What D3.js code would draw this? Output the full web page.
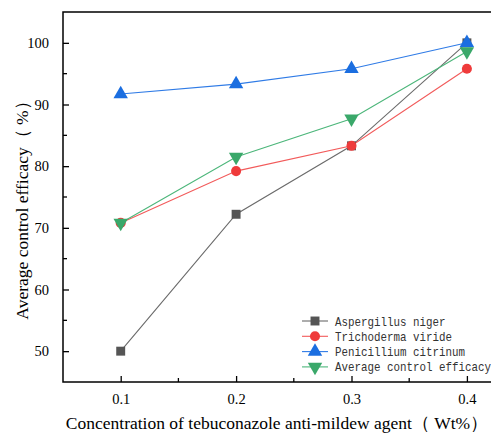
<!DOCTYPE html>
<html>
<head>
<meta charset="utf-8">
<script src="https://cdn.jsdelivr.net/npm/d3@7"></script>
<style>
  body { margin: 0; background: #fff; }
  svg { display: block; }
</style>
</head>
<body>
<svg id="chart" width="491" height="435"></svg>
<script>
// concentrations (Wt%)
const concentrations = [0.1, 0.2, 0.3, 0.4];
const seriesNames = ['Aspergillus niger', 'Trichoderma viride', 'Penicillium citrinum', 'Average control efficacy'];
const aspergillus = [50, 72.2, 83.3, 100];
const trichoderma = [70.8, 79.2, 83.3, 95.8];
const penicillium = [91.7, 93.3, 95.8, 100];
const average = [70.8, 81.5, 87.7, 98.6];
const xTicks = [0.1, 0.2, 0.3, 0.4];
const yTicks = [50, 60, 70, 80, 90, 100];

const colors = ['#555555', '#ef3b3b', '#1b6ee0', '#3aa86a'];
const lineColors = ['#6b6b6b', '#f25a5a', '#2f7be6', '#4cb67a'];
const symbols = [d3.symbolSquare, d3.symbolCircle, d3.symbolTriangle, d3.symbolTriangle];
const symSizes = [80, 80, 90, 90];
const allSeries = [aspergillus, trichoderma, penicillium, average];

const margin = { left: 63, top: 12, right: 524.6, bottom: 382 };

const x = d3.scaleLinear().domain([0.05, 0.45]).range([margin.left, margin.right]);
const y = d3.scaleLinear().domain([45, 105]).range([margin.bottom, margin.top]);

const svg = d3.select('#chart');
const serif = '"Liberation Serif", "Times New Roman", serif';

// frame
svg.append('rect')
  .attr('x', margin.left).attr('y', margin.top)
  .attr('width', margin.right - margin.left).attr('height', margin.bottom - margin.top)
  .attr('fill', 'none').attr('stroke', '#000').attr('stroke-width', 1.5);

// bottom axis, ticks inward
const xAxis = svg.append('g')
  .attr('transform', `translate(0,${margin.bottom})`)
  .call(d3.axisBottom(x).tickValues(xTicks).tickFormat(d3.format('.1f')).tickSizeInner(-6).tickSizeOuter(0).tickPadding(12));
xAxis.select('.domain').remove();
xAxis.selectAll('text').attr('font-family', serif).attr('font-size', 14.5).attr('fill', '#000');
xAxis.selectAll('line').attr('stroke-width', 1.3);
svg.append('g').attr('transform', `translate(0,${margin.bottom})`)
  .selectAll('line').data([0.15, 0.25, 0.35]).join('line')
  .attr('x1', d => x(d)).attr('x2', d => x(d)).attr('y1', 0).attr('y2', -4)
  .attr('stroke', '#000').attr('stroke-width', 1.3);

// left axis, ticks inward
const yAxis = svg.append('g')
  .attr('transform', `translate(${margin.left},0)`)
  .call(d3.axisLeft(y).tickValues(yTicks).tickSizeInner(-6).tickSizeOuter(0).tickPadding(14));
yAxis.select('.domain').remove();
yAxis.selectAll('text').attr('font-family', serif).attr('font-size', 14.5).attr('fill', '#000');
yAxis.selectAll('line').attr('stroke-width', 1.3);
svg.append('g').attr('transform', `translate(${margin.left},0)`)
  .selectAll('line').data([55, 65, 75, 85, 95]).join('line')
  .attr('x1', 0).attr('x2', 4).attr('y1', d => y(d)).attr('y2', d => y(d))
  .attr('stroke', '#000').attr('stroke-width', 1.3);

// lines and markers
const line = d3.line().x((d, i) => x(concentrations[i])).y(d => y(d));
allSeries.forEach((vals, k) => {
  svg.append('path').datum(vals)
    .attr('d', line).attr('fill', 'none')
    .attr('stroke', lineColors[k]).attr('stroke-width', 1.1);
});
allSeries.forEach((vals, k) => {
  svg.append('g').selectAll('path').data(vals).join('path')
    .attr('d', d3.symbol().type(symbols[k]).size(symSizes[k]))
    .attr('transform', (d, i) => `translate(${x(concentrations[i])},${y(d)})${k === 3 ? ' rotate(180)' : ''}`)
    .attr('fill', colors[k]);
});

// legend
const legend = svg.append('g').attr('transform', 'translate(302,321)');
seriesNames.forEach((name, k) => {
  const g = legend.append('g').attr('transform', `translate(0,${k * 15.3})`);
  g.append('line').attr('x1', 0).attr('x2', 26).attr('y1', 0).attr('y2', 0)
    .attr('stroke', lineColors[k]).attr('stroke-width', 1.1);
  g.append('path')
    .attr('d', d3.symbol().type(symbols[k]).size(symSizes[k]))
    .attr('transform', `translate(13,0)${k === 3 ? ' rotate(180)' : ''}`)
    .attr('fill', colors[k]);
  g.append('text').attr('x', 33).attr('y', 0).attr('dy', '0.35em')
    .attr('font-family', '"Liberation Mono", "DejaVu Sans Mono", monospace')
    .attr('font-size', 13)
    .attr('textLength', name.length * 6.5).attr('lengthAdjust', 'spacingAndGlyphs')
    .attr('fill', '#333').text(name);
});

// axis titles
svg.append('text')
  .attr('transform', 'translate(22,206) rotate(-90)')
  .attr('text-anchor', 'middle').attr('dy', '0.35em')
  .attr('font-family', serif).attr('font-size', 17.5).attr('fill', '#000')
  .text('Average control efficacy（ %）');
svg.append('text')
  .attr('x', 277).attr('y', 429)
  .attr('text-anchor', 'middle')
  .attr('font-family', serif).attr('font-size', 17.5).attr('fill', '#000')
  .text('Concentration of tebuconazole anti-mildew agent（ Wt%）');
</script>
</body>
</html>
